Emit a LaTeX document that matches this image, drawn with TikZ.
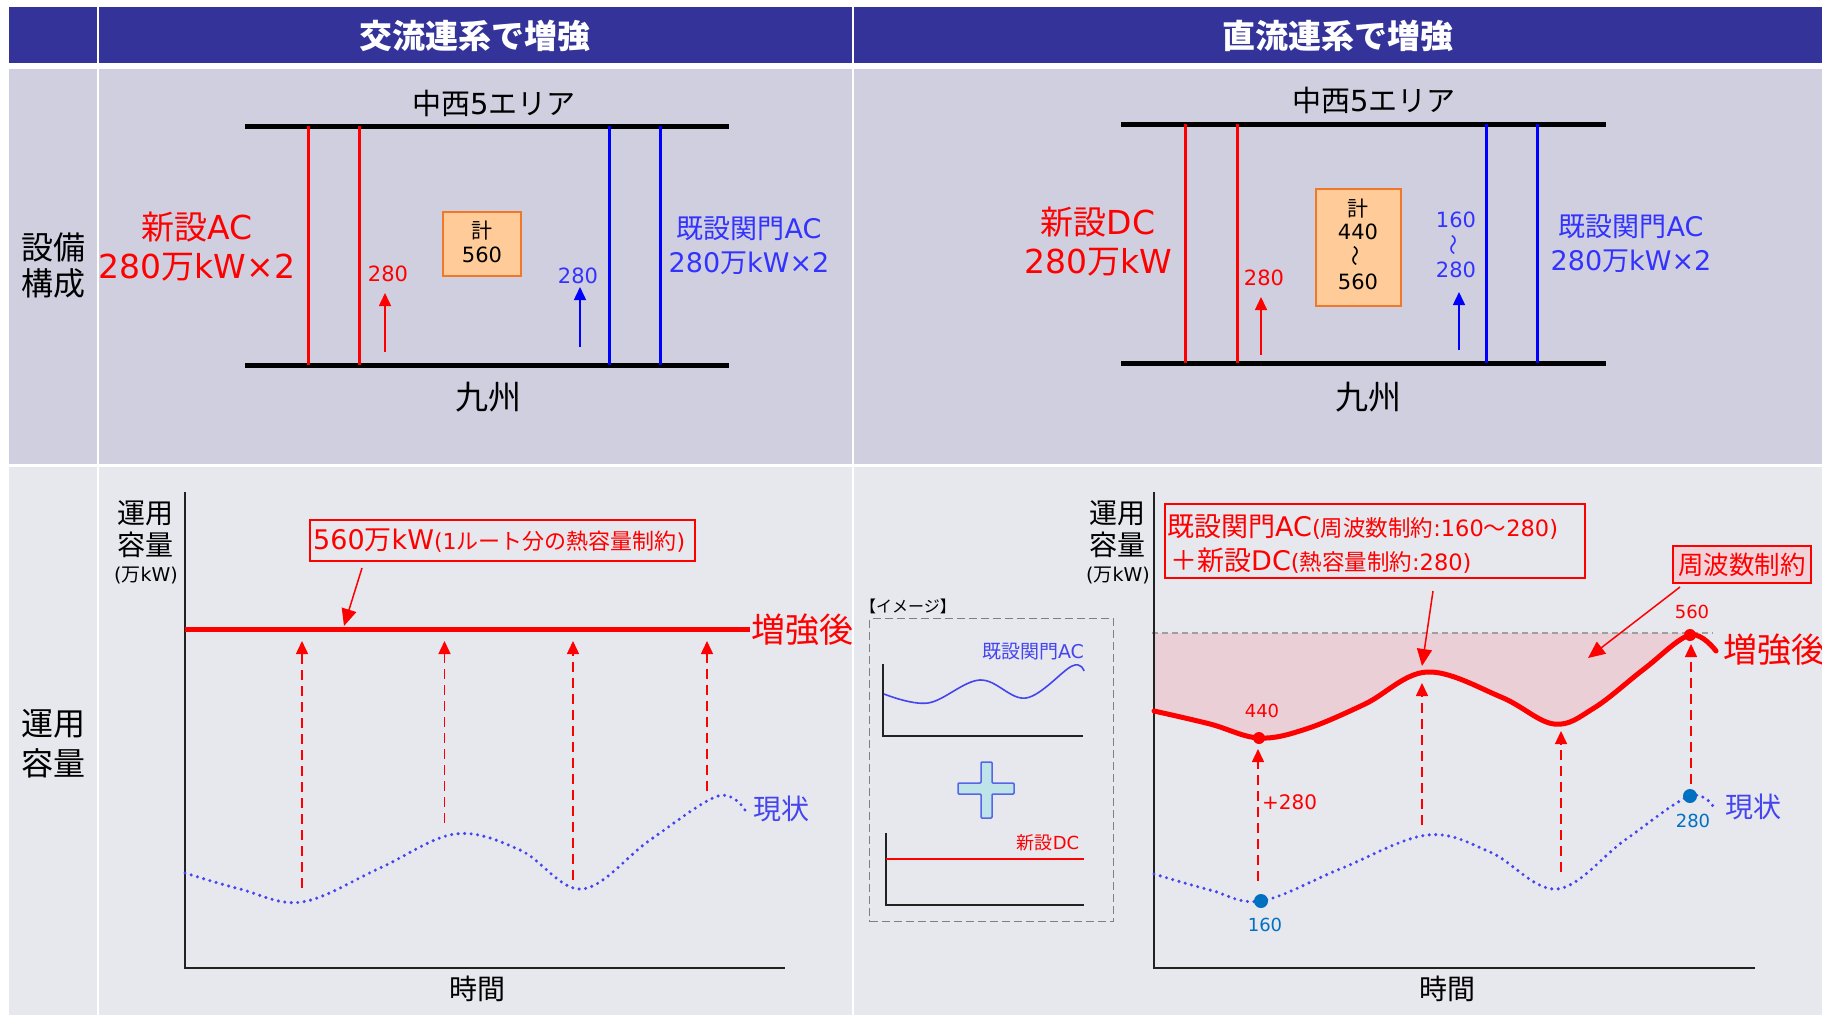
\documentclass[tikz,border=0pt]{standalone}
\usepackage{fontspec}
\usepackage{graphicx}
\setmainfont{DejaVu Sans}
\newfontfamily\jpfont{Noto Sans CJK JP}
\newfontfamily\latfont{DejaVu Sans}
\XeTeXinterchartokenstate=1
\ifdefined\newXeTeXintercharclass \newXeTeXintercharclass\JPclass \else \chardef\JPclass=9 \fi
\newcount\jpcc
\jpcc="3000 \loop\ifnum\jpcc<"3100 \XeTeXcharclass\jpcc=\JPclass \advance\jpcc by 1 \repeat
\jpcc="4E00 \loop\ifnum\jpcc<"A000 \XeTeXcharclass\jpcc=\JPclass \advance\jpcc by 1 \repeat
\jpcc="FF00 \loop\ifnum\jpcc<"FFF0 \XeTeXcharclass\jpcc=\JPclass \advance\jpcc by 1 \repeat
\XeTeXinterchartoks 0 \JPclass = {\jpfont}
\XeTeXinterchartoks 4095 \JPclass = {\jpfont}
\XeTeXinterchartoks \JPclass 0 = {\latfont}
\usetikzlibrary{arrows.meta}
\newcommand{\myfs}[1]{\fontsize{#1}{#1}\selectfont}
\definecolor{hdrblue}{HTML}{333399}
\definecolor{rowa}{HTML}{CFCFDF}
\definecolor{rowb}{HTML}{E7E7EE}
\definecolor{rred}{HTML}{FF0000}
\definecolor{bblue}{HTML}{0000FF}
\definecolor{tblue}{HTML}{3333FF}
\definecolor{orfill}{HTML}{FFCC99}
\definecolor{orline}{HTML}{F07828}
\definecolor{dotblue}{HTML}{4545F0}
\definecolor{steel}{HTML}{0070C0}
\definecolor{pinkfill}{HTML}{EACFD7}
\definecolor{boxpink}{HTML}{F2D2D9}
\definecolor{pluscyan}{HTML}{BEE3E8}
\definecolor{plusline}{HTML}{5566E8}
\definecolor{axisc}{HTML}{222222}
\begin{document}
\begin{tikzpicture}[x=1pt,y=-1pt,
  hdr/.style={text=white,font=\bfseries\myfs{33}},
  big/.style={inner sep=0pt,font=\myfs{31}},
  redlbl/.style={inner sep=0pt,font=\myfs{33},text=rred},
  bluelbl/.style={inner sep=0pt,font=\myfs{27},text=tblue},
  mid/.style={inner sep=0pt,font=\myfs{28}},
  sml/.style={inner sep=0pt,font=\myfs{21}},
  tiny/.style={inner sep=0pt,font=\myfs{18}},
  bar/.style={line width=5pt,black},
  rline/.style={line width=3pt,rred},
  bline/.style={line width=3pt,bblue},
  uparrow/.style={line width=1.5pt,-{Triangle[length=13pt,width=12pt]}},
  rdash/.style={draw=rred,line width=1.5pt,dash pattern=on 10pt off 6pt,-{Triangle[length=13pt,width=12pt]}},
  bdots/.style={draw=dotblue,line width=3.4pt,line cap=round,dash pattern=on 0pt off 6.5pt},
  annot/.style={draw=rred,line width=1.5pt,-{Triangle[length=17pt,width=15pt]}},
  axis/.style={draw=axisc,line width=2pt},
  orbox/.style={draw=orline,fill=orfill,line width=1.5pt},
  redbox/.style={draw=rred,line width=1.5pt}
]
\useasboundingbox (0,0) rectangle (1822,1015);
\fill[white] (0,0) rectangle (1822,1015);
% ---------- table cells ----------
\fill[hdrblue] (9,7) rectangle (97,63);
\fill[hdrblue] (99,7) rectangle (852,63);
\fill[hdrblue] (854,7) rectangle (1822,63);
\fill[rowa] (9,69) rectangle (97,464);
\fill[rowa] (99,69) rectangle (852,464);
\fill[rowa] (854,69) rectangle (1822,464);
\fill[rowb] (9,467) rectangle (97,1015);
\fill[rowb] (99,467) rectangle (852,1015);
\fill[rowb] (854,467) rectangle (1822,1015);
\node[hdr] (h1) at (475,36) {交流連系で増強};
\node[hdr] (h2) at (1338,36) {直流連系で増強};
\node[big,font=\myfs{32}] (r1a) at (53,247) {設備};
\node[big,font=\myfs{32}] (r1b) at (53,283) {構成};
\node[big,font=\myfs{32}] (r2a) at (53,724) {運用};
\node[big,font=\myfs{32}] (r2b) at (53,763) {容量};

% ---------- top-left diagram ----------
\coordinate (LTl) at (245,126); \coordinate (LTr) at (729,126);
\coordinate (LBl) at (245,365); \coordinate (LBr) at (729,365);
\draw[bar] (LTl) -- (LTr);
\draw[bar] (LBl) -- (LBr);
\foreach \xx/\nm in {308.5/la,359.6/lb}{
  \coordinate (\nm t) at (\xx,126); \coordinate (\nm b) at (\xx,365);
  \draw[rline] (\nm t) -- (\nm b);}
\foreach \xx/\nm in {609.5/lc,660.6/ld}{
  \coordinate (\nm t) at (\xx,126); \coordinate (\nm b) at (\xx,365);
  \draw[bline] (\nm t) -- (\nm b);}
\node[big,font=\myfs{29}] (L5) at (494,103) {中西5エリア};
\node[big,font=\myfs{33}] (Lq) at (488,397) {九州};
\node[orbox,minimum width=78pt,minimum height=64pt,inner sep=0pt] (Lbox) at (482,244) {};
\node[sml] (Lk) at (482,231) {計};
\node[sml] (Lk2) at (482,255) {560};
\coordinate (Lra0) at (385,352); \coordinate (Lra1) at (385,293);
\draw[uparrow,rred] (Lra0) -- (Lra1);
\node[sml,text=rred] (Lr280) at (388,274) {280};
\coordinate (Lba0) at (580,347); \coordinate (Lba1) at (580,287);
\draw[uparrow,bblue] (Lba0) -- (Lba1);
\node[sml,text=tblue] (Lb280) at (578,276) {280};
\node[redlbl] (Lnew1) at (197,227) {新設AC};
\node[redlbl] (Lnew2) at (197,267) {280万kW×2};
\node[bluelbl] (Lold1) at (749,229) {既設関門AC};
\node[bluelbl] (Lold2) at (749,263) {280万kW×2};

% ---------- top-right diagram ----------
\coordinate (RTl) at (1121,124); \coordinate (RTr) at (1606,124);
\coordinate (RBl) at (1121,363); \coordinate (RBr) at (1606,363);
\draw[bar] (RTl) -- (RTr);
\draw[bar] (RBl) -- (RBr);
\foreach \xx/\nm in {1185/ra,1237.5/rb}{
  \coordinate (\nm t) at (\xx,124); \coordinate (\nm b) at (\xx,363);
  \draw[rline] (\nm t) -- (\nm b);}
\foreach \xx/\nm in {1486/rc,1537/rd}{
  \coordinate (\nm t) at (\xx,124); \coordinate (\nm b) at (\xx,363);
  \draw[bline] (\nm t) -- (\nm b);}
\node[big,font=\myfs{29}] (R5) at (1374,100) {中西5エリア};
\node[big,font=\myfs{33}] (Rq) at (1368,397) {九州};
\node[orbox,minimum width=85pt,minimum height=117pt,inner sep=0pt] (Rbox) at (1358.5,247.5) {};
\node[sml] (Rk) at (1358,209) {計};
\node[sml] (Rk2) at (1358,232) {440};
\node[sml,rotate=90] (Rk3) at (1358,256) {〜};
\node[sml] (Rk4) at (1358,282) {560};
\coordinate (Rra0) at (1261,355); \coordinate (Rra1) at (1261,297);
\draw[uparrow,rred] (Rra0) -- (Rra1);
\node[sml,text=rred] (Rr280) at (1264,278) {280};
\coordinate (Rba0) at (1459,350); \coordinate (Rba1) at (1459,292);
\draw[uparrow,bblue] (Rba0) -- (Rba1);
\node[sml,text=tblue] (Rb160) at (1456,220) {160};
\node[sml,text=tblue,rotate=90] (Rbw) at (1456,245) {〜};
\node[sml,text=tblue] (Rb280) at (1456,270) {280};
\node[redlbl] (Rnew1) at (1098,222) {新設DC};
\node[redlbl] (Rnew2) at (1098,262) {280万kW};
\node[bluelbl] (Rold1) at (1631,227) {既設関門AC};
\node[bluelbl] (Rold2) at (1631,261) {280万kW×2};

% ---------- bottom-left chart ----------
\coordinate (LAo) at (185,968); \coordinate (LAy) at (185,492); \coordinate (LAx) at (785,968);
\draw[axis] (LAy) -- (LAo) -- (LAx);
\node[mid] (Ly1) at (145,513) {運用};
\node[mid] (Ly2) at (145,545) {容量};
\node[tiny,font=\myfs{19}] (Ly3) at (146,575) {(万kW)};
\node[mid] (Lx) at (477,989) {時間};
\node[redbox,minimum width=385pt,minimum height=41pt,inner sep=0pt] (Lrb) at (502.5,540.5) {};
\node[inner sep=0pt,text=rred,anchor=west] (Lrbt) at (313,541) {\myfs{27}560万kW\myfs{22}(1ルート分の熱容量制約)};
\coordinate (Lan0) at (362,568); \coordinate (Lan1) at (344,626);
\draw[annot] (Lan0) -- (Lan1);
\foreach \xx/\yy/\nm in {302/888/p,444.5/823/q,573/880/r,707/791/s}{
  \coordinate (L\nm0) at (\xx,\yy); \coordinate (L\nm1) at (\xx,641);
  \draw[rdash] (L\nm0) -- (L\nm1);}
\coordinate (Lred0) at (185,629); \coordinate (Lred1) at (750,629);
\draw[rred,line width=5pt] (Lred0) -- (Lred1);
\node[big,font=\myfs{34},text=rred,anchor=west] (Lzo) at (751,630) {増強後};
\draw[bdots] plot[smooth,tension=0.6] coordinates {(185,873) (240,889) (302,902) (380,868) (455,834) (520,850) (582,889) (650,840) (718,796) (745,810)};
\node[mid,text=dotblue,anchor=west] (Lgj) at (753,809) {現状};

% ---------- bottom-right chart ----------
\fill[pinkfill] plot[smooth,tension=0.6] coordinates {(1154,711) (1210,724) (1259,738) (1306,729) (1365,704) (1427,672) (1501,697) (1554,724) (1594,708) (1644,669) (1690,635)} -- (1690,633) -- (1154,633) -- cycle;
\coordinate (Rg0) at (1152,633); \coordinate (Rg1) at (1713,633);
\draw[gray!75,line width=1.5pt,dash pattern=on 6pt off 4pt] (Rg0) -- (Rg1);
\coordinate (RAo) at (1154,968); \coordinate (RAy) at (1154,492); \coordinate (RAx) at (1755,968);
\draw[axis] (RAy) -- (RAo) -- (RAx);
\node[mid] (Ry1) at (1117,513) {運用};
\node[mid] (Ry2) at (1117,545) {容量};
\node[tiny,font=\myfs{19}] (Ry3) at (1118,575) {(万kW)};
\node[mid] (Rx) at (1447,989) {時間};
\node[redbox,minimum width=420pt,minimum height=74pt,inner sep=0pt] (Rrb) at (1375,541) {};
\node[inner sep=0pt,text=rred,anchor=west] (Rrbt1) at (1167,527) {\myfs{27}既設関門AC\myfs{22.5}(周波数制約:160～280)};
\node[inner sep=0pt,text=rred,anchor=west] (Rrbt2) at (1170,561) {\myfs{27}＋新設DC\myfs{22.5}(熱容量制約:280)};
\node[draw=rred,fill=boxpink,line width=1.5pt,minimum width=138pt,minimum height=37pt,inner sep=0pt,text=rred,font=\myfs{25.5}] (Rfb) at (1742,564.5) {周波数制約};
\coordinate (Ran0) at (1433,591); \coordinate (Ran1) at (1422,666);
\draw[annot] (Ran0) -- (Ran1);
\coordinate (Rbn0) at (1680,587); \coordinate (Rbn1) at (1588,658);
\draw[annot] (Rbn0) -- (Rbn1);
\foreach \xx/\yy/\tt/\nm in {1258/881/749/p,1422/825/683/q,1561/872/731/r,1691/784/644/s}{
  \coordinate (R\nm0) at (\xx,\yy); \coordinate (R\nm1) at (\xx,\tt);
  \draw[rdash] (R\nm0) -- (R\nm1);}
\draw[rred,line width=5pt,line cap=round] plot[smooth,tension=0.6] coordinates {(1154,711) (1210,724) (1259,738) (1306,729) (1365,704) (1427,672) (1501,697) (1554,724) (1594,708) (1644,669) (1690,635) (1716,651)};
\draw[bdots] plot[smooth,tension=0.6] coordinates {(1154,874) (1210,890) (1261,901) (1340,869) (1427,835) (1490,852) (1557,889) (1625,840) (1690,796) (1715,809)};
\node[circle,fill=rred,inner sep=0pt,minimum size=12pt] (Rd440) at (1259,738) {};
\node[circle,fill=rred,inner sep=0pt,minimum size=12pt] (Rd560) at (1690,635) {};
\node[circle,fill=steel,inner sep=0pt,minimum size=14pt] (Rd160) at (1261,901) {};
\node[circle,fill=steel,inner sep=0pt,minimum size=14pt] (Rd280) at (1690,796) {};
\node[tiny,text=rred] (R440) at (1262,711) {440};
\node[tiny,text=rred] (R560) at (1692,612) {560};
\node[tiny,text=steel] (R160) at (1265,925) {160};
\node[tiny,text=steel] (R280) at (1693,821) {280};
\node[sml,font=\myfs{20},text=rred,anchor=west] (Rp280) at (1262,802) {+280};
\node[big,font=\myfs{34},text=rred,anchor=west] (Rzo) at (1723,650) {増強後};
\node[mid,text=dotblue,anchor=west] (Rgj) at (1725,807) {現状};

% ---------- image box ----------
\node[tiny,anchor=west,font=\myfs{16}] (Img) at (860,606) {【イメージ】};
\node[draw=gray,line width=1.5pt,dash pattern=on 8pt off 4pt,minimum width=244pt,minimum height=303pt,inner sep=0pt] (Imgb) at (991.5,770) {};
\coordinate (M1y) at (883,664); \coordinate (M1o) at (883,736); \coordinate (M1x) at (1083,736);
\draw[axisc,line width=1.8pt] (M1y) -- (M1o) -- (M1x);
\draw[dotblue,line width=1.6pt] plot[smooth,tension=0.6] coordinates {(884,694) (928,703) (980,680) (1026,698) (1072,666) (1084,671)};
\node[tiny,font=\myfs{19},text=dotblue] (M1l) at (1033,652) {既設関門AC};
\coordinate (M2y) at (886,833); \coordinate (M2o) at (886,905); \coordinate (M2x) at (1084,905);
\draw[axisc,line width=1.8pt] (M2y) -- (M2o) -- (M2x);
\coordinate (M2r0) at (886,859); \coordinate (M2r1) at (1084,859);
\draw[rred,line width=1.8pt] (M2r0) -- (M2r1);
\node[tiny,text=rred] (M2l) at (1048,843) {新設DC};
\draw[plusline,fill=pluscyan,line width=1.5pt,rounded corners=1pt] (981,762) -- (992,762) -- (992,783) -- (1014,783) -- (1014,794) -- (992,794) -- (992,818) -- (981,818) -- (981,794) -- (958,794) -- (958,783) -- (981,783) -- cycle;
\end{tikzpicture}
\end{document}
